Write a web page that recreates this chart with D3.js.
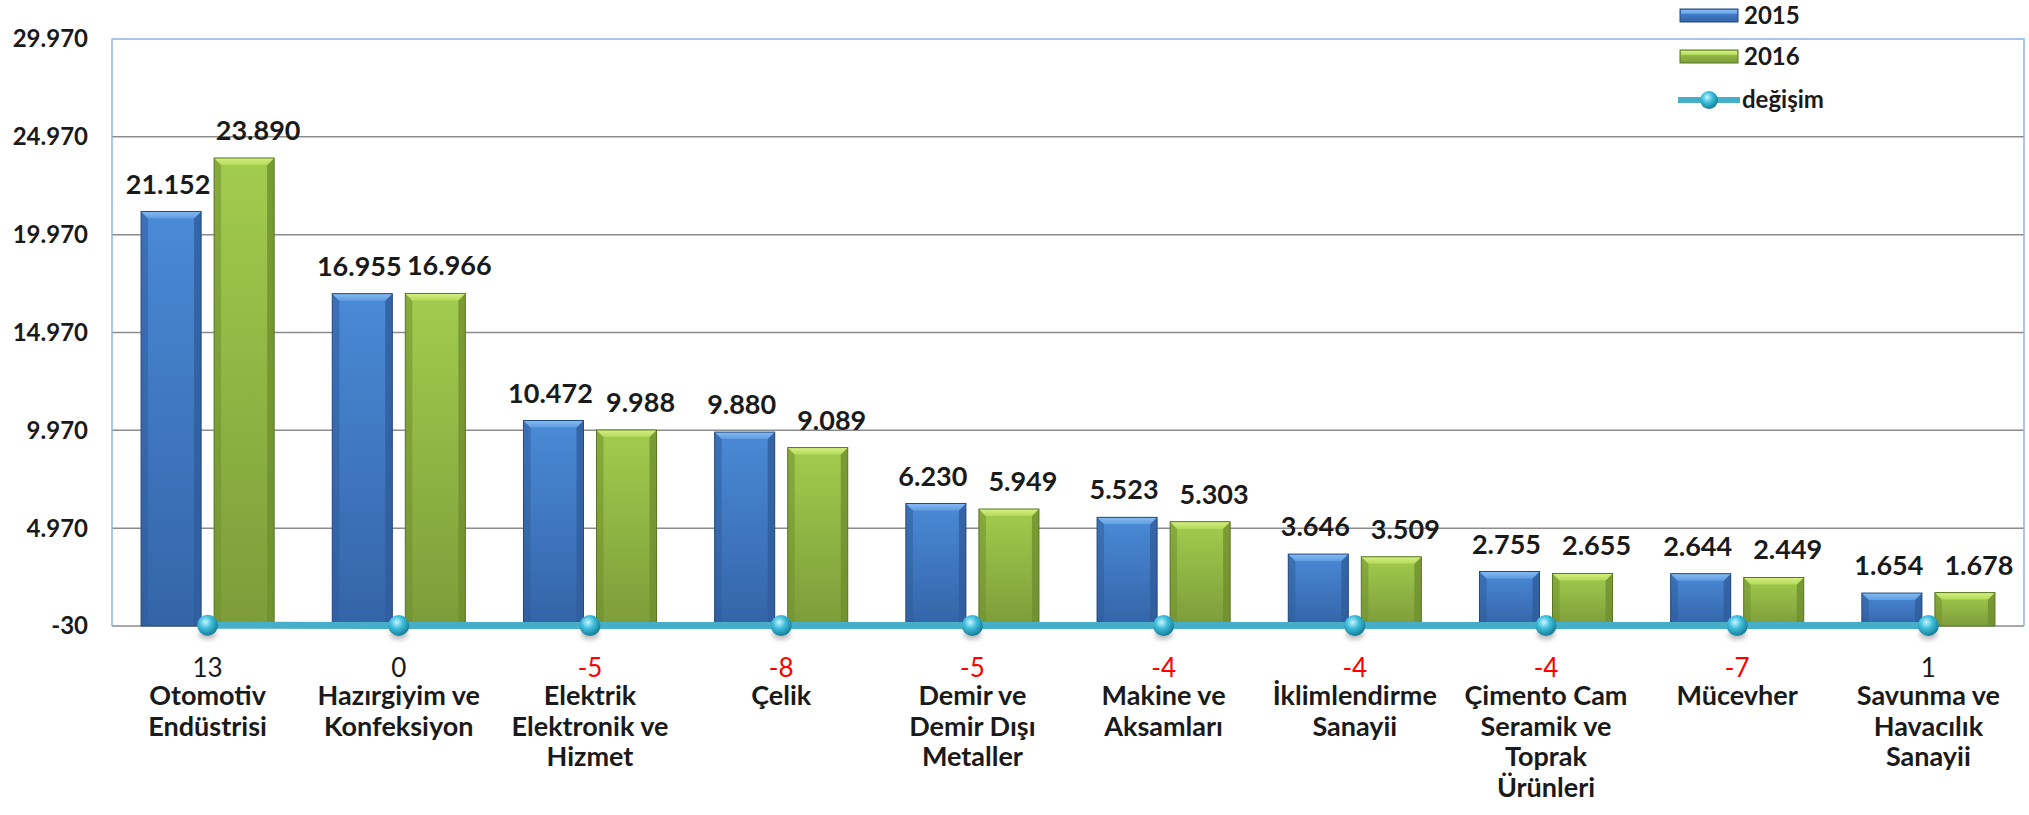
<!DOCTYPE html>
<html>
<head>
<meta charset="utf-8">
<script src="https://cdn.jsdelivr.net/npm/d3@7"></script>
<style>
  body { margin: 0; background: #fff; }
  svg text { font-family: Lato, "Open Sans", sans-serif; }
</style>
</head>
<body>
<div id="chart"></div>
<script>
// chart data
var categories = [
  ["Otomotiv", "Endüstrisi"],
  ["Hazırgiyim ve", "Konfeksiyon"],
  ["Elektrik", "Elektronik ve", "Hizmet"],
  ["Çelik"],
  ["Demir ve", "Demir Dışı", "Metaller"],
  ["Makine ve", "Aksamları"],
  ["İklimlendirme", "Sanayii"],
  ["Çimento Cam", "Seramik ve", "Toprak", "Ürünleri"],
  ["Mücevher"],
  ["Savunma ve", "Havacılık", "Sanayii"]
];
var values2015 = [21152, 16955, 10472, 9880, 6230, 5523, 3646, 2755, 2644, 1654];
var values2016 = [23890, 16966, 9988, 9089, 5949, 5303, 3509, 2655, 2449, 1678];
var change = [13, 0, -5, -8, -5, -4, -4, -4, -7, 1];
var seriesNames = ["2015", "2016"];
var yTicks = [-30, 4970, 9970, 14970, 19970, 24970, 29970];

// size
var w = 2029;
var h = 815;
var padLeft = 112, padRight = 2024, padTop = 39, padBottom = 626;

// turkish number format: dot thousands, plain hyphen
var fmt = function(d) { return d3.format(",")(d).replace(/,/g, ".").replace("\u2212", "-"); };

var svg = d3.select("#chart")
  .append("svg")
  .attr("width", w)
  .attr("height", h);

var defs = svg.append("defs");

// gradients for the bevelled bars
function faceGrad(id, c1, c2) {
  var g = defs.append("linearGradient").attr("id", id)
    .attr("x1", 0).attr("y1", 0).attr("x2", 0).attr("y2", 1);
  g.append("stop").attr("offset", "0%").attr("stop-color", c1);
  g.append("stop").attr("offset", "100%").attr("stop-color", c2);
}
faceGrad("face0", "#4a8ad6", "#3464a8");
faceGrad("face1", "#a2cc4e", "#7d9c3a");
faceGrad("top0", "#86bdf4", "#5f9be0");
faceGrad("top1", "#d4f080", "#b4da5c");

var dotGrad = defs.append("radialGradient").attr("id", "dot")
  .attr("cx", "40%").attr("cy", "35%").attr("r", "65%");
dotGrad.append("stop").attr("offset", "0%").attr("stop-color", "#c8f4ff");
dotGrad.append("stop").attr("offset", "45%").attr("stop-color", "#3fbfdc");
dotGrad.append("stop").attr("offset", "100%").attr("stop-color", "#177d99");

var blur = defs.append("filter").attr("id", "soft")
  .attr("x", "-50%").attr("y", "-50%").attr("width", "200%").attr("height", "200%");
blur.append("feGaussianBlur").attr("stdDeviation", 2.5);

var colors = {
  side: ["#2f5d9c", "#6f8f2e"],
  edge: ["#24497d", "#5a7624"]
};

// scales
var yScale = d3.scaleLinear()
  .domain([-30, 29970])
  .range([padBottom, padTop]);

var x0 = d3.scaleBand()
  .domain(d3.range(categories.length))
  .range([padLeft, padRight])
  .paddingInner(0.304)
  .paddingOuter(0.152);

var x1 = d3.scaleBand()
  .domain(seriesNames)
  .range([0, x0.bandwidth()])
  .paddingInner(0.178);

// grid lines
svg.append("g")
  .selectAll("line")
  .data(yTicks.slice(0, -1))
  .enter().append("line")
  .attr("x1", padLeft).attr("x2", padRight)
  .attr("y1", function(d) { return yScale(d); })
  .attr("y2", function(d) { return yScale(d); })
  .style("stroke", "#8c8c8c")
  .style("stroke-width", 1.5);

// plot border (left, top, right)
svg.append("path")
  .attr("d", "M" + padLeft + "," + yScale(-30) + "V" + padTop + "H" + padRight + "V" + yScale(-30))
  .style("fill", "none")
  .style("stroke", "#8db3e2")
  .style("stroke-width", 1.5);

// y axis labels
svg.append("g")
  .selectAll("text")
  .data(yTicks)
  .enter().append("text")
  .attr("x", 88)
  .attr("y", function(d) { return yScale(d); })
  .attr("dy", "0.35em")
  .style("text-anchor", "end")
  .style("font-size", "24px")
  .style("font-weight", "bold")
  .style("fill", "#1a1a1a")
  .text(fmt);

// bars
var rows = [];
categories.forEach(function(c, i) {
  rows.push({ i: i, s: 0, name: "2015", value: values2015[i] });
  rows.push({ i: i, s: 1, name: "2016", value: values2016[i] });
});

var bev = 7;
var bars = svg.append("g").selectAll("g")
  .data(rows)
  .enter().append("g")
  .attr("transform", function(d) {
    return "translate(" + (x0(d.i) + x1(d.name)) + "," + yScale(d.value) + ")";
  });

bars.each(function(d) {
  var g = d3.select(this);
  var bw = x1.bandwidth();
  var bh = yScale(-30) - yScale(d.value);
  var b = Math.min(bev, bh / 2);
  g.append("rect")
    .attr("width", bw).attr("height", bh)
    .style("fill", "url(#face" + d.s + ")");
  g.append("path")
    .attr("d", "M0,0L" + b + "," + b + "V" + bh + "H0Z")
    .style("fill", colors.side[d.s]).style("opacity", 0.55);
  g.append("path")
    .attr("d", "M" + bw + ",0L" + (bw - b) + "," + b + "V" + bh + "H" + bw + "Z")
    .style("fill", colors.side[d.s]).style("opacity", 0.8);
  g.append("path")
    .attr("d", "M0,0H" + bw + "L" + (bw - b) + "," + b + "H" + b + "Z")
    .style("fill", "url(#top" + d.s + ")");
  g.append("rect")
    .attr("width", bw).attr("height", bh)
    .style("fill", "none")
    .style("stroke", colors.edge[d.s])
    .style("stroke-width", 1);
});

// value labels
var labelShift = [-3, 14];
svg.append("g").selectAll("text")
  .data(rows)
  .enter().append("text")
  .attr("x", function(d) { return x0(d.i) + x1(d.name) + x1.bandwidth() / 2 + labelShift[d.s]; })
  .attr("y", function(d) { return yScale(d.value) - 18; })
  .style("text-anchor", "middle")
  .style("font-size", "27px")
  .style("font-weight", "bold")
  .style("fill", "#1a1a1a")
  .text(function(d) { return fmt(d.value); });

// change line
var cx = function(d, i) { return x0(i) + x0.bandwidth() / 2; };
var line = d3.line()
  .x(function(d, i) { return cx(d, i); })
  .y(function(d) { return yScale(d); });

svg.append("path")
  .datum(change)
  .attr("d", line)
  .style("fill", "none")
  .style("stroke", "#46aec8")
  .style("stroke-width", 7);

svg.append("g").selectAll("ellipse")
  .data(change)
  .enter().append("ellipse")
  .attr("cx", cx)
  .attr("cy", function(d) { return yScale(d) + 9; })
  .attr("rx", 9).attr("ry", 5)
  .style("fill", "#666")
  .style("opacity", 0.45)
  .attr("filter", "url(#soft)");

svg.append("g").selectAll("circle")
  .data(change)
  .enter().append("circle")
  .attr("cx", cx)
  .attr("cy", function(d) { return yScale(d); })
  .attr("r", 10.5)
  .style("fill", "url(#dot)");

// change labels
svg.append("g").selectAll("text")
  .data(change)
  .enter().append("text")
  .attr("x", cx)
  .attr("y", 677)
  .style("text-anchor", "middle")
  .style("font-size", "26px")
  .style("fill", function(d) { return d < 0 ? "#ff0000" : "#1a1a1a"; })
  .text(function(d) { return fmt(d); });

// category labels
var cat = svg.append("g").selectAll("text")
  .data(categories)
  .enter().append("text")
  .attr("x", cx)
  .attr("y", 705)
  .style("text-anchor", "middle")
  .style("font-size", "27px")
  .style("font-weight", "bold")
  .style("fill", "#1a1a1a");

cat.selectAll("tspan")
  .data(function(d, i) { return d.map(function(t) { return { t: t, i: i }; }); })
  .enter().append("tspan")
  .attr("x", function(d) { return cx(null, d.i); })
  .attr("dy", function(d, j) { return j === 0 ? 0 : 30.5; })
  .text(function(d) { return d.t; });

// legend
var lx = 1680;
var legend = svg.append("g");
[16, 57].forEach(function(ly, s) {
  legend.append("rect")
    .attr("x", lx).attr("y", ly - 7)
    .attr("width", 58).attr("height", 13)
    .style("fill", "url(#face" + s + ")")
    .style("stroke", colors.edge[s]);
  legend.append("rect")
    .attr("x", lx + 1).attr("y", ly - 6)
    .attr("width", 56).attr("height", 4)
    .style("fill", "url(#top" + s + ")");
  legend.append("text")
    .attr("x", lx + 64).attr("y", ly)
    .attr("dy", "0.35em")
    .style("font-size", "24px")
    .style("font-weight", "bold")
    .style("fill", "#1a1a1a")
    .text(seriesNames[s]);
});
legend.append("line")
  .attr("x1", lx - 2).attr("x2", lx + 60)
  .attr("y1", 100).attr("y2", 100)
  .style("stroke", "#46aec8")
  .style("stroke-width", 6);
legend.append("circle")
  .attr("cx", lx + 29).attr("cy", 100).attr("r", 9)
  .style("fill", "url(#dot)");
legend.append("text")
  .attr("x", lx + 62).attr("y", 100)
  .attr("dy", "0.35em")
  .style("font-size", "24px")
  .style("font-weight", "bold")
  .style("fill", "#1a1a1a")
  .text("değişim");
</script>
</body>
</html>
